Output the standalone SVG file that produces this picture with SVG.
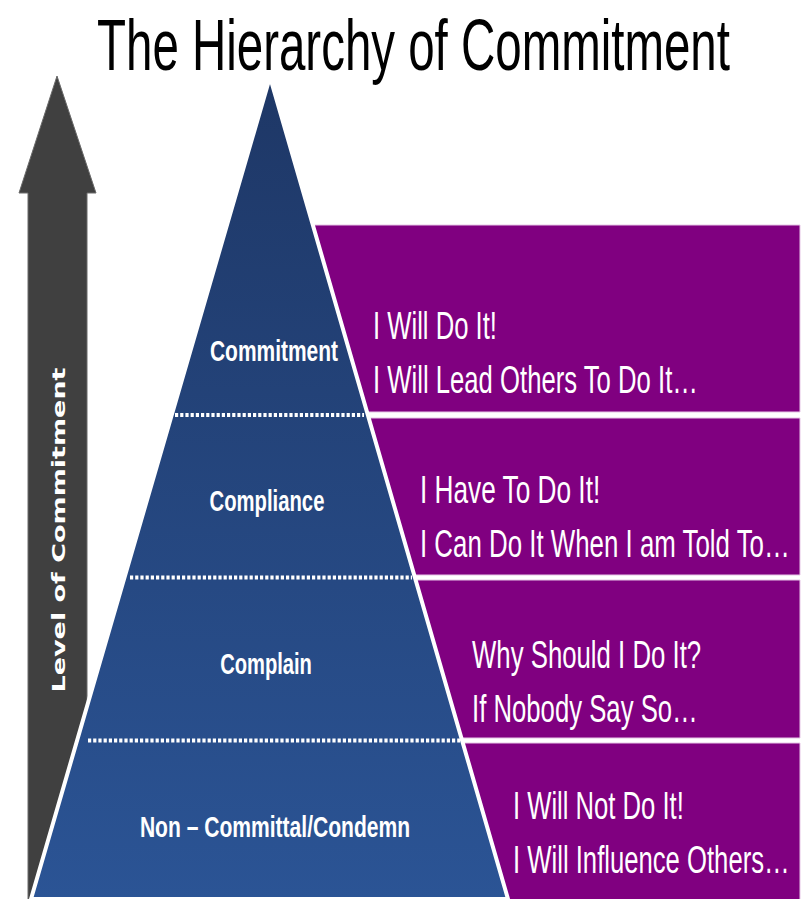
<svg xmlns="http://www.w3.org/2000/svg" width="803" height="899" viewBox="0 0 803 899">
  <defs>
    <linearGradient id="pyrGrad" gradientUnits="userSpaceOnUse" x1="0" y1="77" x2="0" y2="899">
      <stop offset="0" stop-color="#1e3766"/>
      <stop offset="1" stop-color="#2b5495"/>
    </linearGradient>
    <style>
      .title { font-family: "Liberation Sans", Arial, sans-serif; font-size: 72px; fill: #000; }
      .box { fill: #800080; stroke: #e6c6e6; stroke-width: 1; }
      .say { font-family: "Liberation Sans", Arial, sans-serif; font-size: 38px; fill: #ffffff; }
      .lvl { font-family: "Liberation Sans", Arial, sans-serif; font-weight: bold; font-size: 30px; fill: #ffffff; text-anchor: middle; }
      .dots { stroke: #ffffff; stroke-width: 4; stroke-dasharray: 3.2 2; fill: none; }
      .axis { font-family: "DejaVu Sans", "Liberation Sans", sans-serif; font-weight: bold; font-size: 18px; fill: #ffffff; text-anchor: middle; }
    </style>
  </defs>
  <rect width="803" height="899" fill="#ffffff"/>

  <text class="title" transform="translate(97,70) scale(0.66,1)" textLength="959" lengthAdjust="spacingAndGlyphs">The Hierarchy of Commitment</text>

  <g id="axis-arrow">
    <polygon points="57,76 96,193 87,193 87,899 28,899 28,193 19,193" fill="#404040" stroke="#6a6a6a" stroke-width="1"/>
    <text class="axis" transform="translate(65,530) rotate(-90)" x="0" y="0" textLength="325" lengthAdjust="spacingAndGlyphs">Level of Commitment</text>
  </g>

  <g id="box-commitment">
    <polygon class="box" points="300,225 800,225 800,412 300,412"/>
    <text class="say" transform="translate(373,339) scale(0.67,1)" textLength="185" lengthAdjust="spacingAndGlyphs">I Will Do It!</text>
    <text class="say" transform="translate(373,393) scale(0.67,1)" textLength="485" lengthAdjust="spacingAndGlyphs">I Will Lead Others To Do It…</text>
  </g>
  <g id="box-compliance">
    <polygon class="box" points="340,418 800,418 800,575 340,575"/>
    <text class="say" transform="translate(420,503) scale(0.67,1)" textLength="269" lengthAdjust="spacingAndGlyphs">I Have To Do It!</text>
    <text class="say" transform="translate(420,557) scale(0.67,1)" textLength="552" lengthAdjust="spacingAndGlyphs">I Can Do It When I am Told To…</text>
  </g>
  <g id="box-complain">
    <polygon class="box" points="390,580 800,580 800,738 390,738"/>
    <text class="say" transform="translate(472,668) scale(0.67,1)" textLength="342" lengthAdjust="spacingAndGlyphs">Why Should I Do It?</text>
    <text class="say" transform="translate(472,722) scale(0.67,1)" textLength="337" lengthAdjust="spacingAndGlyphs">If Nobody Say So…</text>
  </g>
  <g id="box-noncommittal">
    <polygon class="box" points="440,743 800,743 800,900 440,900"/>
    <text class="say" transform="translate(513,819) scale(0.67,1)" textLength="255" lengthAdjust="spacingAndGlyphs">I Will Not Do It!</text>
    <text class="say" transform="translate(513,873) scale(0.67,1)" textLength="413" lengthAdjust="spacingAndGlyphs">I Will Influence Others…</text>
  </g>

  <g id="pyramid">
    <polygon points="270,77 508,899 31,899" fill="url(#pyrGrad)" stroke="#ffffff" stroke-width="4" stroke-linejoin="round"/>
  </g>

  <g id="connectors">
    <line class="dots" x1="175" y1="415" x2="364" y2="415"/>
    <line class="dots" x1="130" y1="577.5" x2="412" y2="577.5"/>
    <line class="dots" x1="88" y1="740.5" x2="460" y2="740.5"/>
  </g>

  <g id="level-commitment">
    <text class="lvl" transform="translate(274,361) scale(0.7,1)" textLength="183" lengthAdjust="spacingAndGlyphs">Commitment</text>
  </g>
  <g id="level-compliance">
    <text class="lvl" transform="translate(267,511) scale(0.7,1)" textLength="164" lengthAdjust="spacingAndGlyphs">Compliance</text>
  </g>
  <g id="level-complain">
    <text class="lvl" transform="translate(266,674) scale(0.7,1)" textLength="131" lengthAdjust="spacingAndGlyphs">Complain</text>
  </g>
  <g id="level-noncommittal">
    <text class="lvl" transform="translate(275,837) scale(0.7,1)" textLength="386" lengthAdjust="spacingAndGlyphs">Non – Committal/Condemn</text>
  </g>
</svg>
